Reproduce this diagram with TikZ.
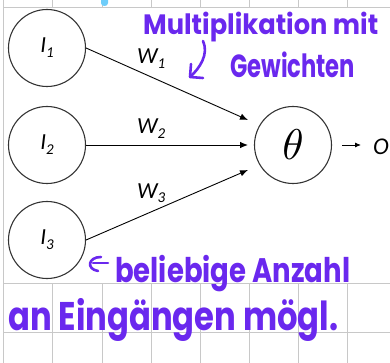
\documentclass[tikz,border=0pt]{standalone}
\usepackage{fontspec}
\usepackage{graphicx}
\usetikzlibrary{arrows.meta}
\newfontfamily\carl{Carlito}
\newfontfamily\hand{Poppins}
\definecolor{ink}{RGB}{106,40,238}
\definecolor{gridc}{RGB}{200,200,200}
\definecolor{blob}{RGB}{110,205,250}
\newcommand\wlab[2]{{\carl\itshape\fontsize{23}{23}\selectfont #1\raisebox{-5pt}{\fontsize{15}{15}\selectfont #2}}}
\newcommand\handtxt[3]{\resizebox{#1pt}{\height}{\hand\bfseries\fontsize{#2}{#2}\selectfont #3}}
\begin{document}
\begin{tikzpicture}[x=1pt,y=-1pt,
  neuron/.style={circle,draw=black!80,line width=1.1pt,minimum size=77pt,inner sep=0pt},
  arr/.style={line width=0.9pt,-{Latex[length=8pt,width=6.5pt]}},
  gridline/.style={gridc,line width=0.9pt},
  handnote/.style={anchor=base west,inner sep=0pt,text=ink},
  handstroke/.style={ink,line width=2.6pt,line cap=round,line join=round}]
\useasboundingbox (0,0) rectangle (390,363);
% grid
\foreach \x in {52,102,151,200,249,298,347} {
  \draw[gridline] (\x,0) -- (\x,7);
  \draw[gridline] (\x,283) -- (\x,363);
}
\draw[gridline] (3,0) -- (3,363);
\draw[gridline] (3,7) -- (390,7);
\draw[gridline] (3,283) -- (390,283);
\draw[gridline] (3,332) -- (390,332);
\fill[blob] (101,0) -- (101,3) .. controls (101,7) and (108,7) .. (108,3) -- (108,0) -- cycle;
% neurons
\node[neuron] (i1) at (47,48) {\wlab{I}{1}};
\node[neuron] (i2) at (47,145) {\wlab{I}{2}};
\node[neuron] (i3) at (47,240) {\wlab{I}{3}};
\node[neuron] (th) at (293,145) {\scalebox{4.3}{$\theta$}};
\node[anchor=base west,inner sep=0pt] (o) at (373,155) {\carl\itshape\fontsize{24}{24}\selectfont O};
\coordinate (t1) at (248,120);
\coordinate (t2) at (248,145);
\coordinate (t3) at (248,170);
\draw[arr] (i1.east) -- (t1);
\draw[arr] (i2.east) -- (t2);
\draw[arr] (i3.east) -- (t3);
\draw[line width=0.9pt,-{Latex[length=6pt,width=5pt]},shorten <=10pt,shorten >=12pt] (th.east) -- (th.east -| o.west);
% weights
\node[anchor=base west,inner sep=0pt] (w1) at (137,64) {\wlab{W}{1}};
\node[anchor=base west,inner sep=0pt] (w2) at (137,134) {\wlab{W}{2}};
\node[anchor=base west,inner sep=0pt] (w3) at (137,198) {\wlab{W}{3}};
% handwritten notes
\node[handnote] (n1) at (143,35) {\handtxt{235}{28}{Multiplikation mit}};
\node[handnote] (n2) at (230,78) {\handtxt{125}{32}{Gewichten}};
\node[handnote] (n3) at (115,282) {\handtxt{235}{34}{beliebige Anzahl}};
\node[handnote] (n4) at (8,330) {\handtxt{330}{40}{an Eingängen mögl.}};
\draw[handstroke] (203,41) .. controls (209,54) and (200,68) .. (190,77);
\draw[handstroke] (191,64) -- (190,77) -- (203,78);
\draw[handstroke] (101,257) .. controls (88,257) and (86,269) .. (98,271);
\draw[handstroke] (93,263) -- (108,263);
\end{tikzpicture}
\end{document}
